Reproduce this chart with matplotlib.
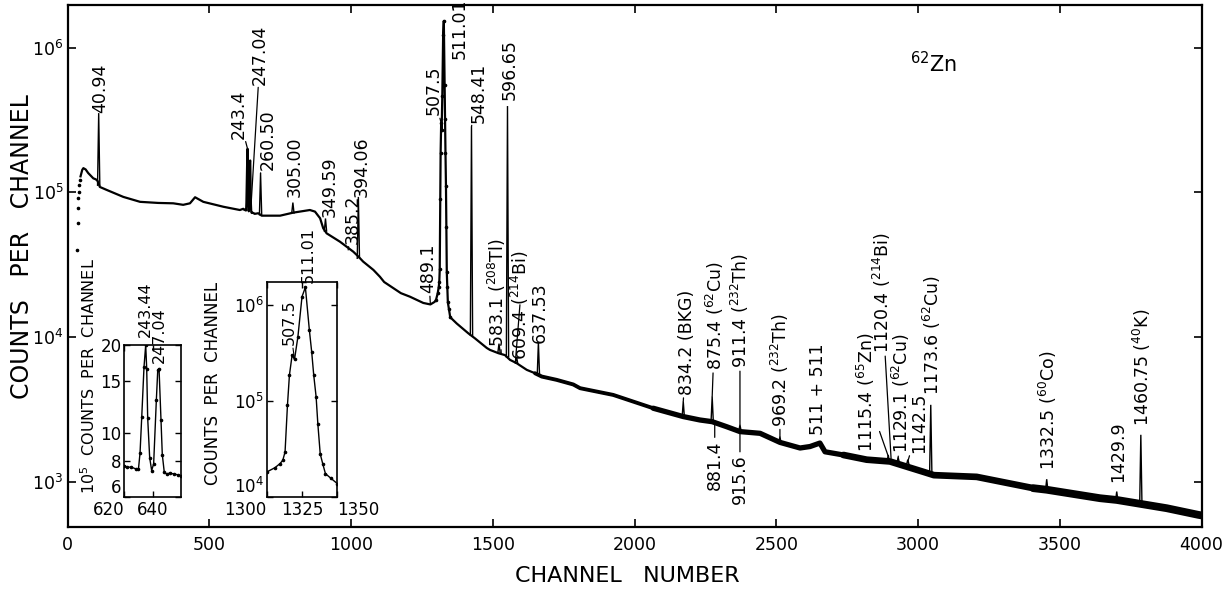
import numpy as np
import matplotlib
matplotlib.use("Agg")
import matplotlib.pyplot as plt
from matplotlib.ticker import NullLocator, LogFormatterMathtext

plt.rcParams['font.family'] = ['DejaVu Sans']
plt.rcParams['mathtext.fontset'] = 'dejavusans'

# ---------------- data ----------------
# dotted leading edge of the spectrum
start_ch = [35, 36, 37, 38, 39, 41, 43]
start_counts = [4.0e4, 6.1e4, 7.8e4, 9.1e4, 1.0e5, 1.12e5, 1.22e5]

# continuum, low channels (before the 243/247 doublet)
cont_lo_ch = [46, 52, 56, 64, 73, 91, 100, 106, 114, 138, 197, 256, 320, 373, 408, 432, 450, 479, 550, 608]
cont_lo_counts = [1.29e5, 1.43e5, 1.47e5, 1.44e5, 1.36e5, 1.25e5, 1.23e5, 1.2e5, 1.09e5, 1.04e5, 9.3e4,
                  8.6e4, 8.45e4, 8.4e4, 8.2e4, 8.4e4, 9.25e4, 8.6e4, 7.95e4, 7.55e4]

# inset 1 : 243.44 / 247.04 doublet (inset units)
ins1_ch = [620, 622, 625, 628, 630, 631.1, 632.3, 633.9, 635.1, 635.8, 636.5, 637.9, 639.3, 640.7,
           642.6, 643.6, 644.5, 645.9, 646.8, 648.2, 650, 652, 655, 658, 660]
ins1_counts = [7.7, 7.6, 7.6, 7.5, 7.5, 8.5, 11.3, 16.8, 20.0, 16.6, 11.2, 8.2, 7.4, 7.8,
               12.9, 16.4, 16.6, 11.0, 8.4, 7.3, 7.2, 7.25, 7.2, 7.15, 7.1]

# continuum, middle channels
cont_mid_ch = [673, 685, 750, 796, 855, 873, 891, 902, 914, 961, 1008, 1026, 1043, 1079, 1102, 1117,
               1176, 1208, 1255, 1280, 1295]
cont_mid_counts = [7.17e4, 6.9e4, 6.9e4, 7.24e4, 7.55e4, 7.36e4, 6.62e4, 5.65e4, 5.21e4, 4.56e4, 3.89e4,
                   3.6e4, 3.32e4, 2.91e4, 2.61e4, 2.4e4, 2.01e4, 1.9e4, 1.72e4, 1.68e4, 1.75e4]

# inset 2 : annihilation peak
ins2_ch = [1300, 1305.9, 1309.5, 1311.4, 1313, 1314.7, 1316.1, 1318, 1319.7, 1322.1, 1325, 1327.4,
           1330.2, 1331.9, 1333.3, 1335, 1336.2, 1337.9, 1339.7, 1341.6, 1345.6, 1350]
ins2_counts = [1.81e4, 2.01e4, 2.22e4, 2.4e4, 2.93e4, 9.0e4, 1.86e5, 3.0e5, 2.71e5, 4.66e5, 1.22e6, 1.53e6,
               5.5e5, 3.2e5, 1.86e5, 1.1e5, 5.8e4, 2.8e4, 2.2e4, 1.74e4, 1.55e4, 1.37e4]

# continuum, high channels
cont_hi_ch = [1373, 1414, 1437, 1479, 1490, 1520, 1543, 1561, 1584, 1620, 1649, 1673, 1725, 1784, 1808,
              1925, 2066, 2172, 2231, 2274, 2325, 2372, 2443, 2513, 2584, 2619, 2654, 2672, 2737, 2819,
              2901, 3019, 3056, 3207, 3407, 3454, 3642, 3701, 3771, 3877, 3989, 4000]
cont_hi_counts = [1.24e4, 1.06e4, 9.8e3, 8.4e3, 8.15e3, 7.73e3, 7.5e3, 6.95e3, 6.6e3, 5.93e3, 5.62e3,
                  5.33e3, 5.06e3, 4.7e3, 4.43e3, 3.98e3, 3.22e3, 2.82e3, 2.67e3, 2.6e3, 2.4e3, 2.22e3,
                  2.16e3, 1.87e3, 1.71e3, 1.75e3, 1.85e3, 1.61e3, 1.53e3, 1.42e3, 1.38e3, 1.17e3, 1.11e3,
                  1.08e3, 902, 880, 769, 748, 710, 656, 590, 585]

# isolated peaks: channel, top counts, base counts
peak_ch = [110, 681, 795, 910, 1026, 1425, 1522, 1552, 1584, 1661, 2172, 2274, 2372, 2513,
           2895, 2930, 2964, 3045, 3454, 3701, 3786]
peak_top = [3.53e5, 1.36e5, 8.5e4, 6.6e4, 9.3e4, 2.85e5, 9.0e3, 3.95e5, 7.3e3, 9.2e3, 3.58e3, 3.87e3,
            2.47e3, 2.05e3, 1.53e3, 1.47e3, 1.42e3, 3.4e3, 1.04e3, 855, 2.11e3]
peak_base = [1.12e5, 7.0e4, 7.2e4, 5.4e4, 3.5e4, 1.03e4, 7.8e3, 7.3e3, 6.6e3, 5.5e3, 2.8e3, 2.6e3,
             2.25e3, 1.85e3, 1.38e3, 1.36e3, 1.32e3, 1.15e3, 880, 745, 700]

# peak labels (energies in keV) and the spectrum point each one refers to
label_text = ["40.94", "243.4", "247.04", "260.50", "305.00", "349.59", "385.2", "394.06", "489.1",
              "507.5", "511.01", "548.41", "596.65", "583.1 ($^{208}$Tl)", "609.4 ($^{214}$Bi)", "637.53",
              "834.2 (BKG)", "875.4 ($^{62}$Cu)", "911.4 ($^{232}$Th)", "969.2 ($^{232}$Th)", "881.4", "915.6",
              "511 + 511", "1115.4 ($^{65}$Zn)", "1120.4 ($^{214}$Bi)", "1129.1 ($^{62}$Cu)", "1142.5",
              "1173.6 ($^{62}$Cu)", "1332.5 ($^{60}$Co)", "1429.9", "1460.75 ($^{40}$K)"]
label_ch = [110, 635, 648, 681, 795, 910, 990, 1026, 1280, 1320, 1327, 1425, 1552, 1530, 1580, 1661,
            2172, 2274, 2372, 2513, 2283, 2372, 2654, 2895, 2905, 2930, 2964, 3045, 3454, 3701, 3786]
label_counts = [3.53e5, 2.0e5, 8.5e4, 1.36e5, 8.5e4, 6.6e4, 4.0e4, 9.3e4, 1.68e4, 2.9e5, 1.53e6, 2.85e5,
                3.95e5, 7.7e3, 6.8e3, 9.2e3, 3.58e3, 3.87e3, 2.47e3, 2.05e3, 2.5e3, 2.22e3, 1.85e3,
                1.5e3, 1.45e3, 1.45e3, 1.38e3, 3.4e3, 1.04e3, 855, 2.11e3]

ins1_label_text = ["243.44", "247.04"]
ins1_label_ch = [635.1, 644.0]
ins1_label_counts = [20.0, 16.6]
ins2_label_text = ["507.5", "511.01"]
ins2_label_ch = [1319.7, 1327.4]
ins2_label_counts = [2.71e5, 1.53e6]

# ---------------- layout / style ----------------
# label offsets in pixels (dx right, dy up), leader flag, vertical anchor
label_layout = [(2, 0, False, 'bottom'), (-9, 10, True, 'bottom'), (9, 118, True, 'bottom'),
                (7.5, 3, True, 'bottom'), (2, 6, False, 'bottom'), (4.5, 1, False, 'bottom'),
                (4.5, 6, True, 'bottom'), (3, 0, False, 'bottom'), (-2, 11, True, 'bottom'),
                (-8.5, 10, True, 'bottom'), (16, -38, False, 'bottom'), (7, 4, True, 'bottom'),
                (2.5, 6, False, 'bottom'), (-4, 6.5, True, 'bottom'), (4.5, 1.5, True, 'bottom'),
                (1.5, -1, False, 'bottom'), (3.5, 6.5, True, 'bottom'), (3, 26.5, True, 'bottom'),
                (0, 56.5, True, 'bottom'), (0, 10, True, 'bottom'), (0, -16, True, 'top'),
                (0, -23, True, 'top'), (-1.5, 8, False, 'bottom'), (-22.5, 4.5, True, 'bottom'),
                (-9.5, 105, True, 'bottom'), (2.5, 5, True, 'bottom'), (11.5, 8.5, True, 'bottom'),
                (1.5, 10, False, 'bottom'), (1.5, 9, False, 'bottom'), (1.5, 10, False, 'bottom'),
                (1, 8.5, False, 'bottom')]
ins1_layout = [(-0.7, 8, False), (0.7, 6, False)]
ins2_layout = [(-5, 14, True), (2.5, 4.5, False)]
# widths (pt) of the noisy high-channel band, by channel range start
band_breaks = [1649, 2066, 2737, 3407]
band_widths = [2.8, 3.8, 4.8, 5.6]

PX = 0.72  # points per pixel at 100 dpi
W, H = 1229, 592
LABEL_FS = 12.5

fig = plt.figure(figsize=(12.29, 5.92), dpi=100)

ax = fig.add_axes([67.5 / W, 1 - 526.7 / H, (1201.5 - 67.5) / W, (526.7 - 5) / H])
ax.set_yscale('log')
ax.set_xlim(0, 4000)
ax.set_ylim(10 ** 2.689, 10 ** 6.295)

# spectrum
main_ch = (cont_lo_ch + ins1_ch + cont_mid_ch + ins2_ch + cont_hi_ch)
main_counts = (cont_lo_counts + [v * 1e4 for v in ins1_counts] + cont_mid_counts + ins2_counts + cont_hi_counts)
ax.plot(main_ch, main_counts, color='k', lw=1.6, solid_joinstyle='round', zorder=3)
ax.plot(start_ch, start_counts, ls='none', marker='o', ms=1.6, color='k')
# noisy band at high channels
for i, b0 in enumerate(band_breaks):
    i0 = cont_hi_ch.index(b0)
    i1 = cont_hi_ch.index(band_breaks[i + 1]) + 1 if i + 1 < len(band_breaks) else len(cont_hi_ch)
    ax.plot(cont_hi_ch[i0:i1], cont_hi_counts[i0:i1], color='k', lw=band_widths[i],
            solid_joinstyle='round', solid_capstyle='round')
# 511 peak drawn with dots
ax.plot(ins2_ch, ins2_counts, ls='none', marker='o', ms=1.6, color='k')

hw = 4
for c, t, b in zip(peak_ch, peak_top, peak_base):
    ax.plot([c - hw, c, c + hw], [b, t, b], color='k', lw=1.0, solid_joinstyle='miter')

for txt, c, v, (dx, dy, lead, va) in zip(label_text, label_ch, label_counts, label_layout):
    ax.annotate(txt, xy=(c, v), xytext=(dx * PX, dy * PX), textcoords='offset points',
                rotation=90, ha='center', va=va, fontsize=LABEL_FS,
                arrowprops=dict(arrowstyle='-', lw=0.9, color='k', shrinkA=0, shrinkB=0) if lead else None)

ax.set_xticks(np.arange(0, 4001, 500))
ax.set_yticks([1e3, 1e4, 1e5, 1e6])
ax.yaxis.set_major_formatter(LogFormatterMathtext())
ax.minorticks_off()
ax.tick_params(which='both', direction='in', top=True, right=True, length=6, width=1.2,
               labelsize=12.5)
ax.tick_params(axis='x', pad=7)
ax.tick_params(axis='y', pad=3)
for s in ax.spines.values():
    s.set_linewidth(1.6)

fig.text(22.5 / W, 1 - 247 / H, "COUNTS   PER   CHANNEL", rotation=90, ha='center', va='center', fontsize=17)
fig.text(627 / W, 1 - 576 / H, "CHANNEL   NUMBER", ha='center', va='center', fontsize=16)
fig.text(910 / W, 1 - 72 / H, r"$^{62}$Zn", ha='left', va='baseline', fontsize=15)

# ---------------- inset 1 ----------------
ax1 = fig.add_axes([124.3 / W, 1 - 497 / H, 56.7 / W, 152 / H])
ax1.set_yscale('log')
ax1.set_xlim(620, 660)
ax1.set_ylim(6, 20)
ax1.plot(ins1_ch, ins1_counts, color='k', lw=1.0, marker='o', ms=1.6)
ax1.set_yticks([6, 8, 10, 15, 20], labels=['6', '8', '10', '15', '20'])
ax1.yaxis.set_minor_locator(NullLocator())
ax1.set_xticks([620, 640], labels=['620', '640'])
ax1.tick_params(which='both', direction='in', top=True, right=True, length=4, width=1.0,
                labelsize=12, pad=2)
ax1.tick_params(axis='x', pad=3)
ax1.get_xticklabels()[0].set_ha('right')
ax1.get_yticklabels()[0].set_va('bottom')
for s in ax1.spines.values():
    s.set_linewidth(1.2)
for txt, c, v, (dx, dy, lead) in zip(ins1_label_text, ins1_label_ch, ins1_label_counts, ins1_layout):
    ax1.annotate(txt, xy=(c, v), xytext=(dx * PX, dy * PX), textcoords='offset points',
                 rotation=90, ha='center', va='bottom', fontsize=11.5, annotation_clip=False)
fig.text(89 / W, 1 - 376 / H, r"10$^5$  COUNTS  PER  CHANNEL", rotation=90, ha='center', va='center',
         fontsize=11.5)

# ---------------- inset 2 ----------------
ax2 = fig.add_axes([266.7 / W, 1 - 496.7 / H, 70.6 / W, 215 / H])
ax2.set_yscale('log')
ax2.set_xlim(1300, 1350)
ax2.set_ylim(1e4, 10 ** 6.243)
ax2.plot(ins2_ch, ins2_counts, color='k', lw=1.0, marker='o', ms=1.6)
ax2.set_yticks([1e4, 1e5, 1e6])
ax2.yaxis.set_major_formatter(LogFormatterMathtext())
ax2.minorticks_off()
ax2.set_xticks([1300, 1325, 1350], labels=['1300', '1325', '1350'])
ax2.tick_params(which='both', direction='in', top=True, right=True, length=4, width=1.0,
                labelsize=12, pad=2)
ax2.tick_params(axis='x', pad=3)
ax2.get_xticklabels()[0].set_ha('right')
ax2.get_xticklabels()[2].set_ha('left')
ax2.get_yticklabels()[0].set_va('bottom')
for s in ax2.spines.values():
    s.set_linewidth(1.2)
for txt, c, v, (dx, dy, lead) in zip(ins2_label_text, ins2_label_ch, ins2_label_counts, ins2_layout):
    ax2.annotate(txt, xy=(c, v), xytext=(dx * PX, dy * PX), textcoords='offset points',
                 rotation=90, ha='center', va='bottom', fontsize=11.5, annotation_clip=False,
                 arrowprops=dict(arrowstyle='-', lw=0.8, color='k', shrinkA=0, shrinkB=0) if lead else None)
fig.text(212.5 / W, 1 - 383.5 / H, "COUNTS  PER  CHANNEL", rotation=90, ha='center', va='center',
         fontsize=12)

fig.savefig("out.png", dpi=100)
